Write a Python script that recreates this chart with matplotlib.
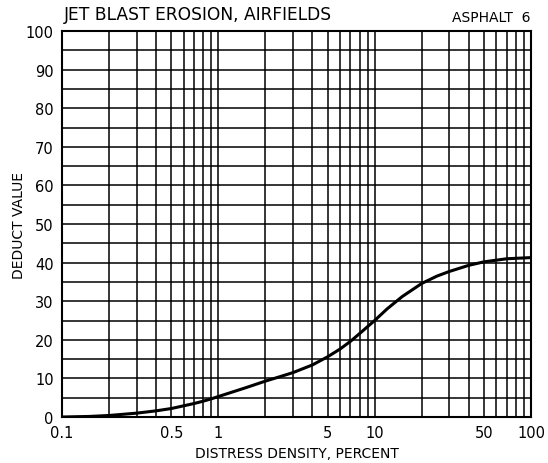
import numpy as np
import matplotlib.pyplot as plt
from matplotlib.ticker import FixedLocator, NullFormatter

# curve
density = [0.1, 0.15, 0.2, 0.3, 0.4, 0.5, 0.6, 0.7, 0.8, 0.9, 1, 1.5, 2, 2.5, 3, 4, 5, 6, 7, 8, 9,
           10, 12, 15, 20, 25, 30, 40, 50, 70, 100]
deduct = [0, 0.15, 0.4, 1.0, 1.6, 2.2, 2.9, 3.5, 4.1, 4.7, 5.3, 7.6, 9.3, 10.5, 11.5, 13.5, 15.6, 17.6, 19.6, 21.6, 23.4,
          25, 28, 31.2, 34.6, 36.5, 37.7, 39.3, 40.2, 41.0, 41.3]

x_ticks = [0.1, 0.5, 1, 5, 10, 50, 100]
x_labels = ["0.1", "0.5", "1", "5", "10", "50", "100"]
y_ticks = list(range(0, 101, 10))

plt.rcParams['font.family'] = ['DejaVu Sans']

fig = plt.figure(figsize=(5.48, 4.64), dpi=100)
ax = fig.add_axes([0.1131, 0.0991, 0.8559, 0.8319])

ax.set_xscale('log')
ax.set_xlim(0.1, 100)
ax.set_ylim(0, 100)

# grid: every 1-9 in each decade, every 5 on y
minor_x = [m * 10.0 ** e for e in (-1, 0, 1) for m in range(1, 10)]
ax.xaxis.set_major_locator(FixedLocator(x_ticks))
ax.xaxis.set_minor_locator(FixedLocator(minor_x))
ax.xaxis.set_minor_formatter(NullFormatter())
ax.set_xticklabels(x_labels)
ax.yaxis.set_major_locator(FixedLocator(y_ticks))
ax.yaxis.set_minor_locator(FixedLocator(list(range(0, 101, 5))))
ax.grid(True, which='both', color='black', linewidth=1.1)
ax.set_axisbelow(True)

ax.tick_params(which='both', length=0, labelsize=10.5, pad=6)
for s in ax.spines.values():
    s.set_linewidth(1.5)

ax.plot(density, deduct, color='black', linewidth=2.2, solid_capstyle='round')

ax.set_xlabel("DISTRESS DENSITY, PERCENT", fontsize=10, labelpad=4)
ax.set_ylabel("DEDUCT VALUE", fontsize=10, labelpad=0)

fig.text(0.117, 0.967, "JET BLAST EROSION, AIRFIELDS", fontsize=12.3, ha='left', va='center')
fig.text(0.968, 0.962, "ASPHALT  6", fontsize=10, ha='right', va='center')

fig.savefig("out.png", dpi=100)
